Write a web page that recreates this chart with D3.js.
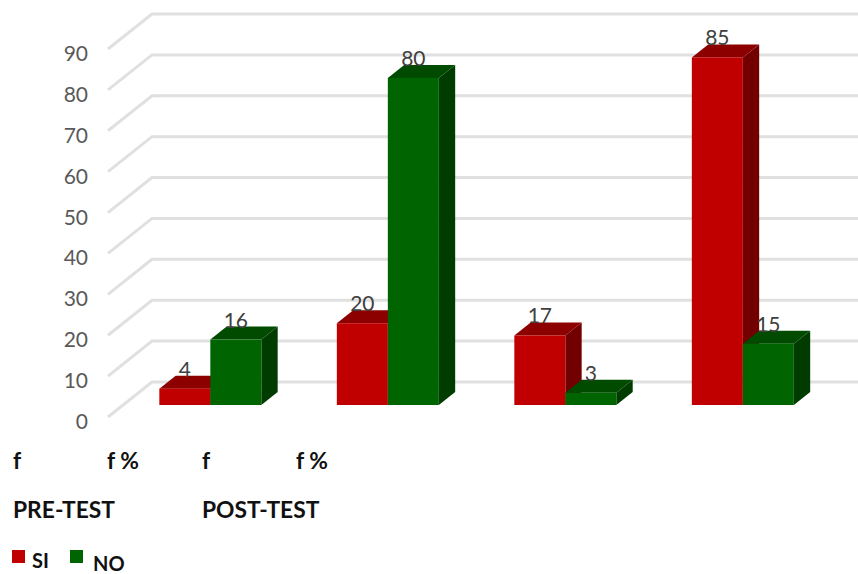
<!DOCTYPE html>
<html>
<head>
<meta charset="utf-8">
<script src="https://cdn.jsdelivr.net/npm/d3@7/dist/d3.min.js"></script>
<style>
html,body{margin:0;padding:0;background:#fff;overflow:hidden}
svg{display:block}
text{font-family:Lato,"Open Sans",sans-serif}
</style>
</head>
<body>
<svg id="chart" width="858" height="574"></svg>
<script>
// Frequencies per measure
const categories = ["A", "B", "C", "D"];
const seriesNames = ["SI", "NO"];
const siValues = [4, 20, 17, 85];
const noValues = [16, 80, 3, 15];
const yTicks = [0, 10, 20, 30, 40, 50, 60, 70, 80, 90];
const measureLabels = ["f", "f %", "f", "f %"];
const phaseLabels = ["PRE-TEST", "POST-TEST"];
const palette = {
  SI: {front: "#c00000", top: "#8c0000", side: "#730000"},
  NO: {front: "#006400", top: "#004b00", side: "#003c00"}
};

const svg = d3.select("#chart");

// Oblique projection: the floor runs from the front edge back to the wall
const depth = {dx: 44, dy: 35};
const barDepth = {front: 12 / 35, back: 25 / 35};
const y = d3.scaleLinear().domain([0, 90]).range([417, 49]);
const x0 = d3.scaleBand().domain(categories).range([108, 818]);
const x1 = d3.scaleBand().domain(seriesNames).range([-51, 51]);

// Gridlines: diagonal on the side wall, horizontal on the back wall
const grid = svg.append("g").attr("stroke", "#e0e0e0").attr("stroke-width", 3).attr("fill", "none");
yTicks.forEach(v => {
  grid.append("path").attr("d", d3.line()([
    [x0.range()[0], y(v)],
    [x0.range()[0] + depth.dx, y(v) - depth.dy],
    [858, y(v) - depth.dy]
  ]));
});

// Value axis
svg.append("g").selectAll("text").data(yTicks).join("text")
  .attr("x", 88).attr("y", d => y(d) + 12)
  .attr("text-anchor", "end").attr("font-size", 21).attr("fill", "#595959")
  .text(d => d);

// Bars as front, top and side faces
const bars = categories.flatMap((c, i) => [
  {c, s: "SI", v: siValues[i]},
  {c, s: "NO", v: noValues[i]}
]);
const barX = d => x0(d.c) + x0.bandwidth() / 2 + depth.dx * barDepth.front + x1(d.s) - 1.5;
const bw = x1.bandwidth();
const ox = depth.dx * (barDepth.back - barDepth.front);
const oy = depth.dy * (barDepth.back - barDepth.front);
const baseY = y(0) - depth.dy * barDepth.front;
const topY = d => baseY - (y(0) - y(d.v));

const g = svg.append("g").selectAll("g").data(bars).join("g");
g.append("path").attr("fill", d => palette[d.s].side).attr("d", d => {
  const r = barX(d) + bw;
  return d3.line()([[r, topY(d)], [r + ox, topY(d) - oy], [r + ox, baseY - oy], [r, baseY]]) + "Z";
});
g.append("path").attr("fill", d => palette[d.s].top).attr("d", d => {
  const l = barX(d);
  return d3.line()([[l, topY(d)], [l + ox, topY(d) - oy], [l + bw + ox, topY(d) - oy], [l + bw, topY(d)]]) + "Z";
});
g.append("rect").attr("fill", d => palette[d.s].front)
  .attr("x", barX).attr("y", topY).attr("width", bw).attr("height", d => baseY - topY(d));

// Value labels sit on the bar tops
svg.append("g").selectAll("text").data(bars).join("text")
  .attr("x", d => barX(d) + bw / 2).attr("y", d => topY(d) - 12)
  .attr("text-anchor", "middle").attr("font-size", 21).attr("fill", "#404040")
  .text(d => d.v);

// Label rows below the plot
const bold = sel => sel.attr("font-weight", 700).attr("fill", "#111").attr("font-size", 22.8);
[13, 107, 202, 296].forEach((px, i) => {
  svg.append("text").attr("x", px).attr("y", 469).call(bold).text(measureLabels[i]);
});
[13, 202].forEach((px, i) => {
  svg.append("text").attr("x", px).attr("y", 518).call(bold).text(phaseLabels[i]);
});

// Legend
[[12, 32, 568], [70, 93, 571]].forEach(([sx, tx, ty], i) => {
  const name = seriesNames[i];
  svg.append("rect").attr("x", sx).attr("y", 550).attr("width", 13).attr("height", 13).attr("fill", palette[name].front);
  svg.append("text").attr("x", tx).attr("y", ty).call(bold).attr("font-size", 20).text(name);
});
</script>
</body>
</html>
